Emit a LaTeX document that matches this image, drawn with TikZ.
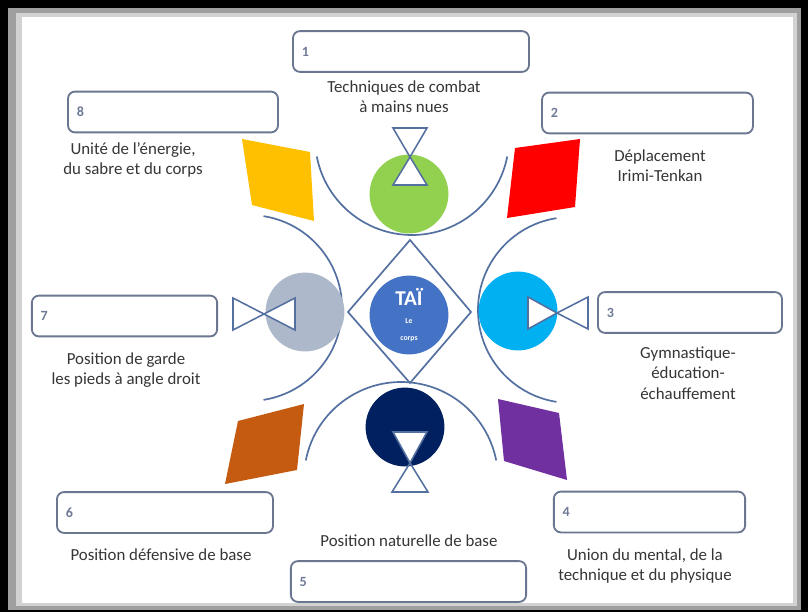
\documentclass[tikz,border=0pt]{standalone}
\usepackage{fontspec}
\setmainfont{Carlito}
\usetikzlibrary{positioning}
\definecolor{linec}{HTML}{5470A0}
\definecolor{boxc}{HTML}{6B7690}
\definecolor{numc}{HTML}{6E7A96}
\definecolor{txtc}{HTML}{363636}
\definecolor{cgreen}{HTML}{92D050}
\definecolor{cyellow}{HTML}{FFC000}
\definecolor{cred}{HTML}{FF0000}
\definecolor{cblue}{HTML}{00B0F0}
\definecolor{cgray}{HTML}{ADB9CA}
\definecolor{cnavy}{HTML}{002060}
\definecolor{cpurple}{HTML}{7030A0}
\definecolor{corange}{HTML}{C55A11}
\definecolor{ccenter}{HTML}{4472C4}

\begin{document}
\begin{tikzpicture}[x=0.025cm, y=0.025cm,
    numbox/.style={draw=boxc, line width=1.3pt, rounded corners=5pt, minimum height=1.02cm, inner xsep=0.22cm, text width=#1, align=left, font=\fontsize{10}{12}\selectfont\bfseries, text=numc},
    txt/.style={align=center, text=txtc, font=\fontsize{12}{14.5}\selectfont},
    disc/.style={circle, minimum size=1.97cm, inner sep=0pt},
    bowl/.style={draw=linec, line width=1.2pt},
    glass/.style={draw=linec, line width=1.1pt, line join=miter}]
    \useasboundingbox (0,0) rectangle (808,-612);
    % frame
    \fill[black] (0,0) rectangle (808,-612);
    \fill[gray!75] (8,-8) rectangle (801,-610);
    \fill[gray!35] (16,-13) rectangle (797,-606);
    \fill[white] (22,-17) rectangle (793,-603);

    % bowls
    \draw[bowl] (412,-138) ++(191:97) arc[start angle=191, end angle=349, radius=97];
    \draw[bowl] (401,-479) ++(169:97) arc[start angle=169, end angle=11, radius=97];
    \draw[bowl] (249,-308) ++(81:93) arc[start angle=81, end angle=-81, radius=93];
    \draw[bowl] (571,-310) ++(99:93) arc[start angle=99, end angle=261, radius=93];

    % diamond
    \draw[bowl] (410,-240) -- (471,-312) -- (410,-383) -- (348,-312) -- cycle;

    % colour fields
    \fill[cyellow] (242,-139) -- (310,-152) -- (314,-221) -- (252,-205) -- cycle;
    \fill[cred] (515,-148) -- (580,-139) -- (575,-207) -- (507,-218) -- cycle;
    \fill[corange] (238,-421) -- (304,-404) -- (297,-470) -- (225,-484) -- cycle;
    \fill[cpurple] (498,-399) -- (559,-413) -- (567,-480) -- (504,-461) -- cycle;

    % discs
    \node[disc, fill=cgreen] (green) at (409,-194) {};
    \node[disc, fill=cgray] (gray) at (305,-312) {};
    \node[disc, fill=cblue] (blue) at (518,-311) {};
    \node[disc, fill=cnavy] (navy) at (405,-427) {};
    \node[disc, fill=ccenter, align=center, text=white, font=\bfseries] (tai) at (409,-315)
        {\fontsize{15}{16}\selectfont TAÏ\\[1pt]\fontsize{5.5}{7}\selectfont Le\\\fontsize{5.5}{7}\selectfont corps};

    % hourglasses
    \draw[glass] (393,-128) -- (427,-128) -- (410,-157) -- cycle;
    \draw[glass, fill=white] (410,-157) -- (427,-185) -- (393,-185) -- cycle;
    \draw[glass, fill=white] (393,-432) -- (427,-432) -- (410,-463) -- cycle;
    \draw[glass] (410,-463) -- (428,-492) -- (392,-492) -- cycle;
    \draw[glass] (233,-298) -- (264,-314) -- (233,-330) -- cycle;
    \draw[glass, fill=white] (264,-314) -- (295,-298) -- (295,-330) -- cycle;
    \draw[glass, fill=white] (528,-297) -- (557,-313) -- (528,-329) -- cycle;
    \draw[glass] (557,-313) -- (588,-297) -- (588,-329) -- cycle;

    % boxes
    \node[numbox=5.46cm] (box1) at (411,-51.5) {1};
    \node[numbox=4.83cm] (box2) at (647.5,-113) {2};
    \node[numbox=4.16cm] (box3) at (690,-312.5) {3};
    \node[numbox=4.34cm] (box4) at (649.5,-512) {4};
    \node[numbox=5.44cm] (box5) at (408.5,-581.5) {5};
    \node[numbox=4.96cm] (box6) at (165,-512.5) {6};
    \node[numbox=4.19cm] (box7) at (124.5,-316) {7};
    \node[numbox=4.81cm] (box8) at (173,-112) {8};

    % texts
    \node[txt] (t1) at (404,-97) {Techniques de combat\\à mains nues};
    \node[txt] (t2) at (660,-166) {Déplacement\\Irimi-Tenkan};
    \node[txt] (t3) at (688,-373) {Gymnastique-\\éducation-\\échauffement};
    \node[txt] (t4) at (645,-566) {Union du mental, de la\\technique et du physique};
    \node[txt] (t5) at (409,-541) {Position naturelle de base};
    \node[txt] (t6) at (161,-555) {Position défensive de base};
    \node[txt] (t7) at (126,-370) {Position de garde\\les pieds à angle droit};
    \node[txt] (t8) at (133,-160) {Unité de l’énergie,\\du sabre et du corps};
\end{tikzpicture}
\end{document}
